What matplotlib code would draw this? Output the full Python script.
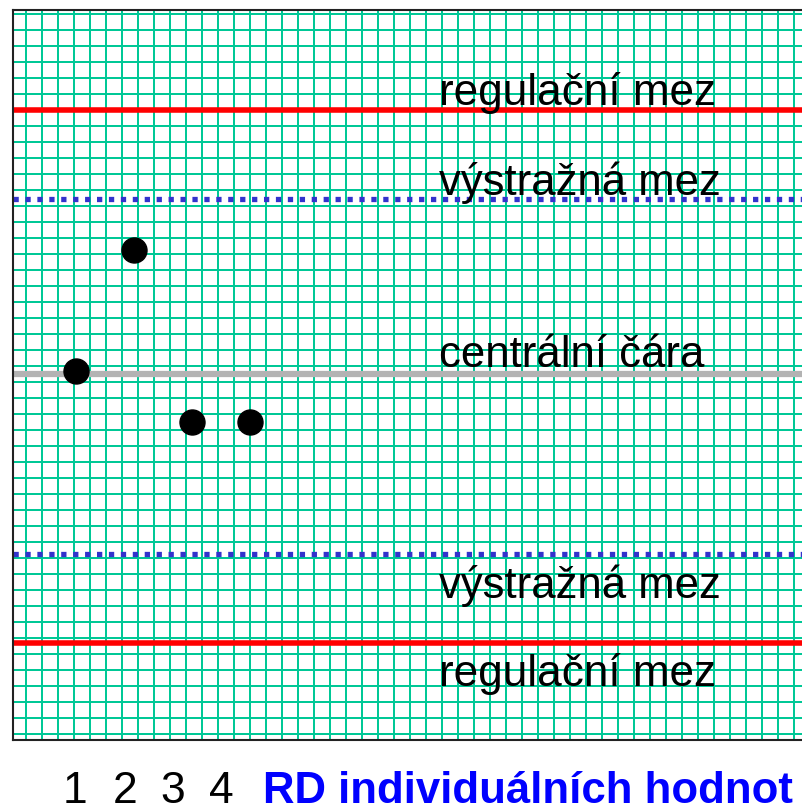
import numpy as np
import matplotlib
matplotlib.use("Agg")
import matplotlib.pyplot as plt
from matplotlib import font_manager

# control chart values (sigma units)
center = 0.0
warn_hi, warn_lo = 1.99, -2.05
ctrl_hi, ctrl_lo = 3.0, -3.06

sample = [1, 2, 3, 4]
values = [0.03, 1.41, -0.54, -0.54]

tick_labels = ["1", "2", "3", "4"]
xlabel = "RD individuálních hodnot"
lbl_ctrl = "regulační mez"
lbl_warn = "výstražná mez"
lbl_center = "centrální čára"


def pick(fam, fallback):
    try:
        font_manager.findfont(font_manager.FontProperties(family=fam),
                              fallback_to_default=False)
        return fam
    except Exception:
        return fallback

narrow = pick("Liberation Sans Narrow", "Liberation Sans")
plt.rcParams['font.family'] = ['Liberation Sans', 'DejaVu Sans']

fig = plt.figure(figsize=(8.03, 8.12), dpi=100)
ax = fig.add_axes([13.3/803, 1 - 741.3/812, 1 - 13.3/803, 730.8/812])

# grid in squared-paper cells
cx, cy = 16/58.1, 16/88
ax.set_xticks(0.139 + cx*np.arange(49))
ax.set_yticks(4.094 - cy*np.arange(46))
ax.set_xlim(-0.079, 13.51)
ax.set_ylim(-4.1625, 4.142)
ax.grid(True, color="#00c896", lw=1.1, antialiased=False)
ax.set_axisbelow(True)
ax.tick_params(length=0, labelbottom=False, labelleft=False)
for s in ["left", "bottom", "top"]:
    ax.spines[s].set_linewidth(1.5)
    ax.spines[s].set_color("#222222")
ax.spines["right"].set_visible(False)

ax.axhline(ctrl_hi, color="#ff0000", lw=4.0)
ax.axhline(ctrl_lo, color="#ff0000", lw=4.0)
for w in [warn_hi, warn_lo]:
    ax.axhline(w, color="#3333cc", lw=3.8, ls=(0, (1.0, 1.26)),
               dash_capstyle="butt")
ax.axhline(center, color="#b3b3b3", lw=4.5)

ax.plot(sample, values, "o", color="black", ms=18, ls="none")

tx = 7.25
ax.text(tx, 3.07, lbl_ctrl, fontsize=31.8, va="baseline")
ax.text(tx, 2.045, lbl_warn, fontsize=31.5, va="baseline")
ax.text(tx, 0.088, lbl_center, fontsize=31.5, va="baseline")
ax.text(tx, -2.53, lbl_warn, fontsize=31.5, va="baseline")
ax.text(tx, -3.53, lbl_ctrl, fontsize=31.8, va="baseline")

big = narrow != "Liberation Sans"
for lab, px in zip(tick_labels, [75, 125, 173, 221]):
    fig.text(px/803, 0.0, lab, family=narrow, fontsize=35 if big else 32,
             ha="center", va="bottom")
fig.text(263/803, 0.0, xlabel, family=narrow, fontweight="bold",
         fontsize=38 if big else 31.5, color="#0000ff", va="bottom")

fig.savefig("out.png", dpi=100)
